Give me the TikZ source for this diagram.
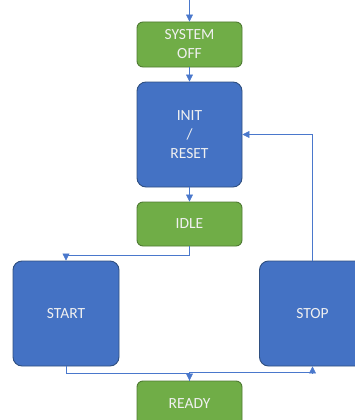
\documentclass[tikz,border=0pt]{standalone}
\usepackage{fontspec}
\setmainfont{Carlito}
\usetikzlibrary{arrows.meta}
\definecolor{stategreen}{HTML}{70AD47}
\definecolor{greenedge}{HTML}{4E7A32}
\definecolor{stateblue}{HTML}{4472C4}
\definecolor{blueedge}{HTML}{2F4F80}
\definecolor{wire}{HTML}{4A78CC}
\tikzset{
  state/.style={draw, line width=0.9pt, text=white!94!black, align=center,
    font=\fontsize{15.5}{19}\selectfont, inner sep=0pt},
  greenstate/.style={state, fill=stategreen, draw=greenedge, rounded corners=6pt,
    minimum width=105pt, minimum height=45pt},
  bluestate/.style={state, fill=stateblue, draw=blueedge, rounded corners=9pt,
    minimum width=106pt, minimum height=105pt},
  link/.style={draw=wire, line width=0.7pt,
    -{Triangle[length=7pt,width=7pt]}},
}
\begin{document}
\begin{tikzpicture}[x=1pt,y=-1pt]
  \useasboundingbox (0,0) rectangle (355,420);
  \begin{scope}
    \clip (0,0) rectangle (355,420);
    % states
    \node[greenstate] (off) at (189.5,44.5) {SYSTEM\\OFF};
    \node[bluestate, minimum width=105pt] (init) at (189.5,134.5) {INIT\\/\\RESET};
    \node[greenstate, minimum height=44pt] (idle) at (189.5,224) {IDLE};
    \node[bluestate] (start) at (66,313.5) {START};
    \node[bluestate] (stop) at (312.5,313.5) {STOP};
    \node[greenstate] (ready) at (189.5,403.5) {READY};
    % entry point
    \coordinate (entry) at (189.5,0);
    % transitions
    \draw[link] (entry) -- (off.north);
    \draw[link] (off.south) -- (init.north);
    \draw[link] (init.south) -- (idle.north);
    \draw[link] (idle.south) -- ++(0,9) -| (start.north);
    \draw[link] (start.south) -- ++(0,7) -| (ready.north);
    \draw[link] (ready.north) -- ++(0,-8) -| (stop.south);
    \draw[link] (stop.north) |- (init.east);
  \end{scope}
\end{tikzpicture}
\end{document}
